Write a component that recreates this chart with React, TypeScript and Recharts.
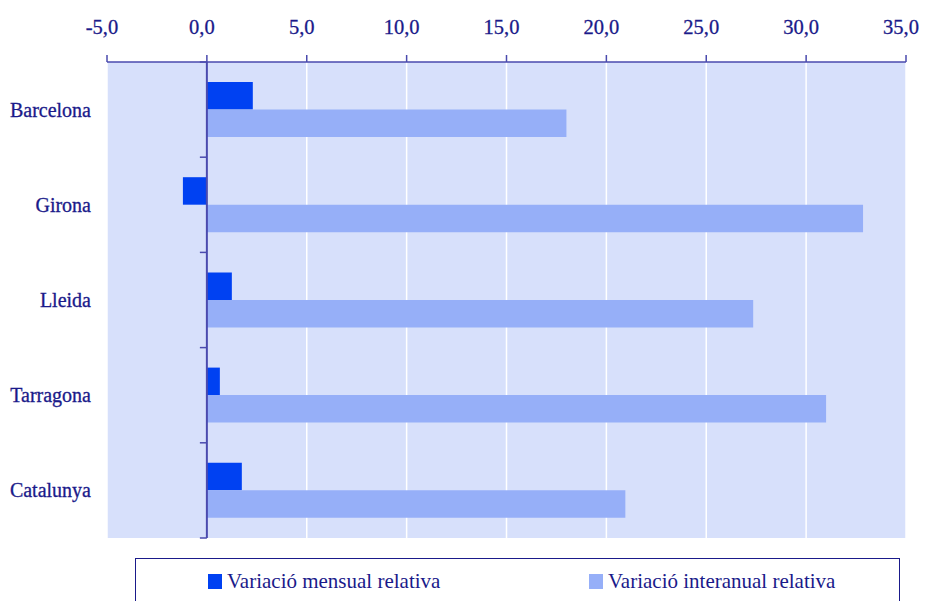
import React from 'react';
import { BarChart, Bar, XAxis, YAxis, CartesianGrid, ReferenceLine } from 'recharts';

const categories = ['Barcelona', 'Girona', 'Lleida', 'Tarragona', 'Catalunya'];
const mensual = [2.3, -1.2, 1.25, 0.65, 1.75];
const interanual = [18.0, 32.85, 27.35, 31.0, 20.95];
const xTicks = [-5, 0, 5, 10, 15, 20, 25, 30, 35];
const seriesNames = ['Variació mensual relativa', 'Variació interanual relativa'];

const data = categories.map((name, i) => ({ name, mensual: mensual[i], interanual: interanual[i] }));

const W = 925;
const H = 601;
const PLOT_LEFT = 107;
const PLOT_RIGHT = 906;
const PLOT_TOP = 62;
const PLOT_BOTTOM = 538;
const X_AXIS_H = 40;
const Y_AXIS_W = 100;
const DOMAIN: [number, number] = [-5, 35];
const NAVY = '#1a1a8a';
const AXIS = '#4a4aae';
const DARK = '#0041f2';
const LIGHT = '#96aff8';
const BG = '#d7e0fb';
const FONT = '"Liberation Serif", "Times New Roman", serif';

const PLOT_W = PLOT_RIGHT - PLOT_LEFT;
const PLOT_H = PLOT_BOTTOM - PLOT_TOP;
const BAND = PLOT_H / categories.length;
const ZERO_X = PLOT_LEFT + ((0 - DOMAIN[0]) / (DOMAIN[1] - DOMAIN[0])) * PLOT_W;

const fmt = (v: number) => v.toFixed(1).replace('.', ',');

const CatTick = (props: any) => {
  const { y, payload, index } = props;
  return (
    <g>
      <text x={91} y={y} textAnchor="end" dominantBaseline="central" fill={NAVY} stroke={NAVY} strokeWidth={0.3} fontSize={20} fontFamily={FONT}>
        {payload.value}
      </text>
      <line x1={ZERO_X - 7} x2={ZERO_X} y1={y - BAND / 2} y2={y - BAND / 2} stroke={AXIS} strokeWidth={1.5} />
      {index === categories.length - 1 && (
        <line x1={ZERO_X - 7} x2={ZERO_X} y1={y + BAND / 2} y2={y + BAND / 2} stroke={AXIS} strokeWidth={1.5} />
      )}
    </g>
  );
};

const XTick = (props: any) => {
  const { x, y, payload } = props;
  return (
    <text x={x - 5} y={y} textAnchor="middle" fill={NAVY} stroke={NAVY} strokeWidth={0.3} fontSize={20.5} fontFamily={FONT}>
      {fmt(payload.value)}
    </text>
  );
};

export default function App() {
  return (
    <div style={{ position: 'absolute', left: 0, top: 0, width: W, height: H, background: '#fff', overflow: 'hidden' }}>
      <BarChart
        width={W}
        height={H}
        data={data}
        layout="vertical"
        margin={{ top: PLOT_TOP - X_AXIS_H, left: PLOT_LEFT - Y_AXIS_W, right: W - PLOT_RIGHT, bottom: H - PLOT_BOTTOM }}
        barGap={0}
        barSize={27.5}
      >
        <CartesianGrid horizontal={false} vertical={true} stroke="#ffffff" strokeWidth={1.5} fill={BG} fillOpacity={1} />
        <XAxis
          type="number"
          orientation="top"
          domain={DOMAIN}
          ticks={xTicks}
          interval={0}
          height={X_AXIS_H}
          tickSize={7}
          tickMargin={21}
          axisLine={{ stroke: AXIS, strokeWidth: 1.5 }}
          tickLine={{ stroke: AXIS, strokeWidth: 1.5 }}
          tick={<XTick />}
          allowDataOverflow
        />
        <YAxis
          type="category"
          dataKey="name"
          width={Y_AXIS_W}
          axisLine={false}
          tickLine={false}
          tick={<CatTick />}
          interval={0}
        />
        <Bar dataKey="mensual" name={seriesNames[0]} fill={DARK} isAnimationActive={false} />
        <Bar dataKey="interanual" name={seriesNames[1]} fill={LIGHT} isAnimationActive={false} />
        <ReferenceLine x={0} stroke={AXIS} strokeWidth={2} />
      </BarChart>
      <div
        style={{
          position: 'absolute',
          left: 135,
          top: 558,
          width: 765,
          height: 60,
          border: `1px solid ${NAVY}`,
          boxSizing: 'border-box',
          fontFamily: FONT,
          fontSize: 21,
          color: NAVY,
        }}
      >
        {seriesNames.map((n, i) => (
          <div
            key={n}
            style={{ position: 'absolute', left: i === 0 ? 72 : 453, top: 10, display: 'flex', alignItems: 'center', whiteSpace: 'nowrap' }}
          >
            <span style={{ display: 'inline-block', width: 14, height: 15, background: i === 0 ? DARK : LIGHT, marginRight: 5 }} />
            <span>{n}</span>
          </div>
        ))}
      </div>
    </div>
  );
}
